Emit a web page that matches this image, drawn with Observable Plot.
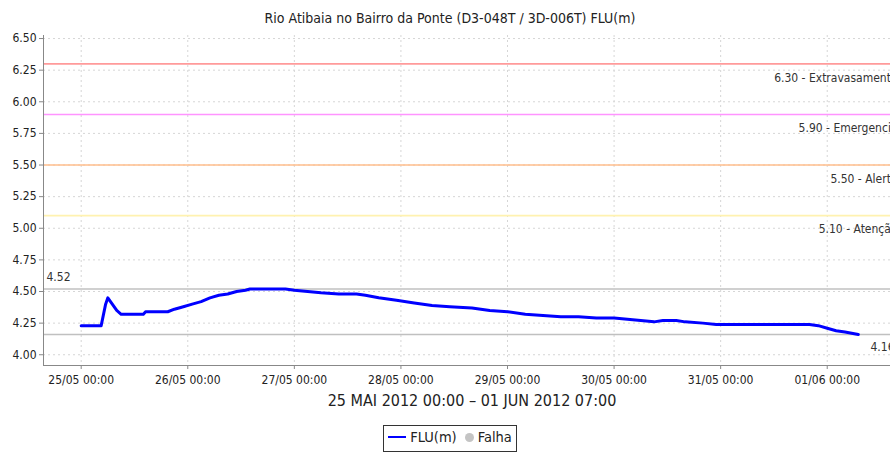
<!DOCTYPE html>
<html><head><meta charset="utf-8">
<script src="https://cdn.jsdelivr.net/npm/d3@7"></script>
<script src="https://cdn.jsdelivr.net/npm/@observablehq/plot@0.6"></script>
<style>
html,body{margin:0;padding:0;background:#fff;}
body{width:890px;height:458px;overflow:hidden;font-family:"DejaVu Sans Condensed","DejaVu Sans",sans-serif;font-stretch:condensed;color:#222;}
#wrap{width:900px;}
#title{height:30px;box-sizing:border-box;padding-top:8px;font-size:14px;line-height:20px;text-align:center;}
#chart svg{display:block;}
#legend{margin:10px auto 0;width:max-content;border:1px solid #333;padding:3px 4px 6px 4px;font-size:14.5px;display:flex;align-items:center;gap:4px;}
#legend .ln{display:inline-block;width:18px;height:2px;background:#0000ff;}
#legend .dot{display:inline-block;width:9px;height:9px;border-radius:50%;background:#c4c4c4;margin-left:4px;}
</style>
</head><body>
<div id="wrap">
<div id="title">Rio Atibaia no Bairro da Ponte (D3-048T / 3D-006T) FLU(m)</div>
<div id="chart"></div>
<div id="legend"><span class="ln"></span><span>FLU(m)</span><span class="dot"></span><span>Falha</span></div>
</div>
<script>
// Hours after 25/05/2012 00:00 and the river level (m)
const hours  = [0, 4.5, 5.5, 6, 7, 8, 9, 14, 14.5, 19.5, 21, 23, 25, 27, 29, 31, 33, 35, 37, 38, 46, 48, 51, 54, 58, 62, 64, 67, 71, 75, 79, 83, 88, 92, 96, 100, 104, 108, 112, 116, 120, 123, 126, 129, 131, 134, 136, 140, 143, 164, 166, 168, 170, 172, 175];
const levels = [4.23, 4.23, 4.40, 4.45, 4.40, 4.35, 4.32, 4.32, 4.34, 4.34, 4.36, 4.38, 4.40, 4.42, 4.45, 4.47, 4.48, 4.50, 4.51, 4.52, 4.52, 4.51, 4.50, 4.49, 4.48, 4.48, 4.47, 4.45, 4.43, 4.41, 4.39, 4.38, 4.37, 4.35, 4.34, 4.32, 4.31, 4.30, 4.30, 4.29, 4.29, 4.28, 4.27, 4.26, 4.27, 4.27, 4.26, 4.25, 4.24, 4.24, 4.23, 4.21, 4.19, 4.18, 4.16];

const thresholdValues = [6.30, 5.90, 5.50, 5.10];
const thresholdNames  = ["Extravasamento", "Emergencia", "Alerta", "Atenção"];
const dayTicks = ["2012-05-25", "2012-05-26", "2012-05-27", "2012-05-28", "2012-05-29", "2012-05-30", "2012-05-31", "2012-06-01"];
const yTicks = [4.00, 4.25, 4.50, 4.75, 5.00, 5.25, 5.50, 5.75, 6.00, 6.25, 6.50];
const periodLabel = "25 MAI 2012 00:00 – 01 JUN 2012 07:00";

const t0 = Date.UTC(2012, 4, 25, 0, 0);
const H = 3600e3;
const data = hours.map((h, i) => ({date: new Date(t0 + h * H), level: levels[i]}));
const thresholds = thresholdValues.map((v, i) => ({value: v, name: thresholdNames[i]}));
const ticks = dayTicks.map(d => new Date(d + "T00:00:00Z"));
const maxLevel = d3.max(levels), minLevel = d3.min(levels);
const thresholdColor = d3.scaleOrdinal(thresholdNames, ["#ff9a9a", "#ff94ff", "#ffbe8c", "#fff2b0"]);

const font = '"DejaVu Sans Condensed","DejaVu Sans",sans-serif';

const chart = Plot.plot({
  width: 900,
  height: 385,
  marginTop: 5,
  marginBottom: 50,
  marginLeft: 43,
  marginRight: 0,
  style: {fontFamily: font, fontSize: "12px", color: "#222", fontStretch: "condensed", background: "#fff"},
  x: {type: "utc", domain: [new Date(t0 - 8.49 * H), new Date(t0 + 184.5 * H)]},
  y: {domain: [3.915, 6.524]},
  marks: [
    Plot.gridY(yTicks, {stroke: "#d6d6d6", strokeOpacity: 1, strokeDasharray: "2,3"}),
    Plot.gridX(ticks, {stroke: "#d6d6d6", strokeOpacity: 1, strokeDasharray: "2,3"}),
    Plot.ruleY(thresholds, {y: "value", stroke: d => thresholdColor(d.name), strokeWidth: 1.6}),
    Plot.ruleY([maxLevel, minLevel], {stroke: "#c0c0c0", strokeWidth: 1.5}),
    Plot.text(thresholds, {y: "value", text: d => d.value.toFixed(2) + " - " + d.name, frameAnchor: "right", textAnchor: "end", dx: -3, dy: 14, fontSize: 12, fill: "#333"}),
    Plot.text([maxLevel], {y: d => d, text: d => d.toFixed(2), frameAnchor: "left", textAnchor: "start", dx: 3, dy: -12, fontSize: 12, fill: "#333"}),
    Plot.text([minLevel], {y: d => d, text: d => d.toFixed(2), frameAnchor: "right", textAnchor: "end", dx: -6, dy: 13, fontSize: 12, fill: "#333"}),
    Plot.line(data, {x: "date", y: "level", stroke: "#0000ff", strokeWidth: 3}),
    Plot.axisY(yTicks, {tickFormat: d => d.toFixed(2), tickSize: 4, tickPadding: 3, stroke: "#888", fill: "#222", label: null}),
    Plot.axisX(ticks, {tickFormat: d3.utcFormat("%d/%m %H:%M"), tickSize: 4, tickPadding: 6, stroke: "#888", fill: "#222", label: null}),
    Plot.frame({anchor: "left", stroke: "#888"}),
    Plot.frame({anchor: "bottom", stroke: "#888"}),
    Plot.text([periodLabel], {text: d => d, frameAnchor: "bottom", dy: 40, fontSize: 16, fill: "#222"})
  ]
});
document.getElementById("chart").append(chart);
</script>
</body></html>
